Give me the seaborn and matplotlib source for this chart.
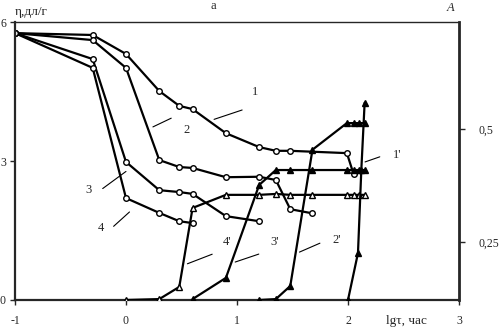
import matplotlib
matplotlib.use("Agg")
import matplotlib.pyplot as plt
import seaborn as sns

sns.set_style("ticks")
plt.rcParams["font.family"] = ["Liberation Serif", "DejaVu Serif"]
plt.rcParams["axes.unicode_minus"] = False

# ---- data: viscosity curves (left axis) ----
x_1 = [-1, -0.3, 0, 0.3, 0.48, 0.6, 0.9, 1.2, 1.35, 1.48, 1.99, 2.05]
eta_1 = [5.76, 5.72, 5.31, 4.51, 4.19, 4.12, 3.60, 3.30, 3.22, 3.22, 3.17, 2.72]
x_2 = [-1, -0.3, 0, 0.3, 0.48, 0.6, 0.9, 1.2, 1.35, 1.48, 1.68]
eta_2 = [5.76, 5.61, 5.01, 3.02, 2.87, 2.85, 2.65, 2.66, 2.59, 1.96, 1.87]
x_3 = [-1, -0.3, 0, 0.3, 0.48, 0.6, 0.9, 1.2]
eta_3 = [5.76, 5.20, 2.98, 2.37, 2.33, 2.29, 1.81, 1.70]
x_4 = [-1, -0.3, 0, 0.3, 0.48, 0.6]
eta_4 = [5.76, 5.01, 2.20, 1.88, 1.70, 1.66]

# ---- data: absorbance curves (right axis) ----
x_4p = [0, 0.3, 0.48, 0.6, 0.9, 1.2, 1.35, 1.48, 1.68, 1.99, 2.05, 2.1, 2.15]
a_4p = [0.122, 0.124, 0.151, 0.326, 0.355, 0.355, 0.357, 0.355, 0.355, 0.355, 0.355, 0.355, 0.355]
x_3p = [0.6, 0.9, 1.2, 1.35, 1.48, 1.68, 1.99, 2.05, 2.1, 2.15]
a_3p = [0.124, 0.171, 0.377, 0.410, 0.410, 0.410, 0.410, 0.410, 0.410, 0.410]
x_2p = [1.2, 1.35, 1.48, 1.68, 1.99, 2.05, 2.1, 2.15]
a_2p = [0.122, 0.124, 0.153, 0.455, 0.514, 0.514, 0.514, 0.514]
x_1p = [2.0, 2.09, 2.12, 2.15]
a_1p = [0.122, 0.226, 0.410, 0.559]

fig = plt.figure(figsize=(5.03, 3.32), dpi=100)
ax = fig.add_axes([0.0298, 0.0964, 0.8827, 0.8373])
ax2 = ax.twinx()

circ = dict(marker="o", markersize=4, markerfacecolor="white",
            markeredgecolor="black", markeredgewidth=1.0)
for xs, ys in [(x_1, eta_1), (x_2, eta_2), (x_3, eta_3), (x_4, eta_4)]:
    sns.lineplot(x=xs, y=ys, ax=ax, color="black", lw=1.6, sort=False,
                 estimator=None, **circ)

tri_open = dict(marker="^", markersize=5, markerfacecolor="white",
                markeredgecolor="black", markeredgewidth=1.0)
tri_fill = dict(marker="^", markersize=5, markerfacecolor="black",
                markeredgecolor="black", markeredgewidth=1.0)
sns.lineplot(x=x_4p, y=a_4p, ax=ax2, color="black", lw=1.6, sort=False,
             estimator=None, **tri_open)
for xs, ys in [(x_3p, a_3p), (x_2p, a_2p), (x_1p, a_1p)]:
    sns.lineplot(x=xs, y=ys, ax=ax2, color="black", lw=1.6, sort=False,
                 estimator=None, **tri_fill)

# axes limits / ticks
ax.set_xlim(-1, 3)
ax.set_ylim(0, 6)
ax2.set_ylim(0.122, 0.738)
ax.set_xticks([-1, 0, 1, 2, 3])
ax.set_yticks([0, 3, 6])
ax2.set_yticks([0.25, 0.5])
ax2.set_yticklabels(["0,25", "0,5"])
ax.set_xlabel("")
ax.set_ylabel("")
ax2.set_ylabel("")

ax.tick_params(axis="both", direction="out", length=3.5, width=1, labelsize=8.5)
ax.tick_params(axis="x", pad=7)
ax.tick_params(axis="y", pad=3)
ax2.tick_params(axis="y", direction="out", length=4, width=1, labelsize=8.5, pad=10)

for s in ["left", "bottom"]:
    ax.spines[s].set_linewidth(1.6)
ax.spines["top"].set_visible(True)
ax.spines["top"].set_linewidth(1.0)
ax.spines["right"].set_visible(False)
for s in ["left", "bottom", "top"]:
    ax2.spines[s].set_visible(False)
ax2.spines["right"].set_visible(True)
ax2.spines["right"].set_linewidth(2.0)

# curve labels with pointer lines (data coords of left axis)
labels = [
    ("1", (1.16, 4.49), (1.07, 4.12), (0.77, 3.88)),
    ("2", (0.55, 3.67), (0.43, 3.95), (0.22, 3.71)),
    ("3", (-0.34, 2.37), (-0.23, 2.37), (0.02, 2.81)),
    ("4", (-0.23, 1.55), (-0.13, 1.55), (0.05, 1.94)),
    ("1'", (2.44, 3.13), (2.31, 3.11), (2.13, 2.96)),
    ("2'", (1.90, 1.29), (1.77, 1.25), (1.54, 1.01)),
    ("3'", (1.34, 1.25), (1.22, 1.01), (0.96, 0.80)),
    ("4'", (0.91, 1.25), (0.80, 1.01), (0.53, 0.76)),
]
for txt, tpos, p0, p1 in labels:
    ax.text(tpos[0], tpos[1], txt, fontsize=9, ha="center", va="center")
    ax.annotate("", xy=p1, xytext=p0,
                arrowprops=dict(arrowstyle="-", lw=0.8, color="black"))

fig.text(15 / 503, 1 - 12 / 332, "η,дл/г", fontsize=9.5, ha="left", va="center")
fig.text(213 / 503, 1 - 6 / 332, "а", fontsize=9, ha="center", va="center")
fig.text(450 / 503, 1 - 8 / 332, "A", fontsize=9, ha="center", va="center",
         style="italic")
fig.text(406 / 503, 1 - 321 / 332, "lgτ, час", fontsize=9.5, ha="center",
         va="center")

fig.savefig("out.png", dpi=100)
